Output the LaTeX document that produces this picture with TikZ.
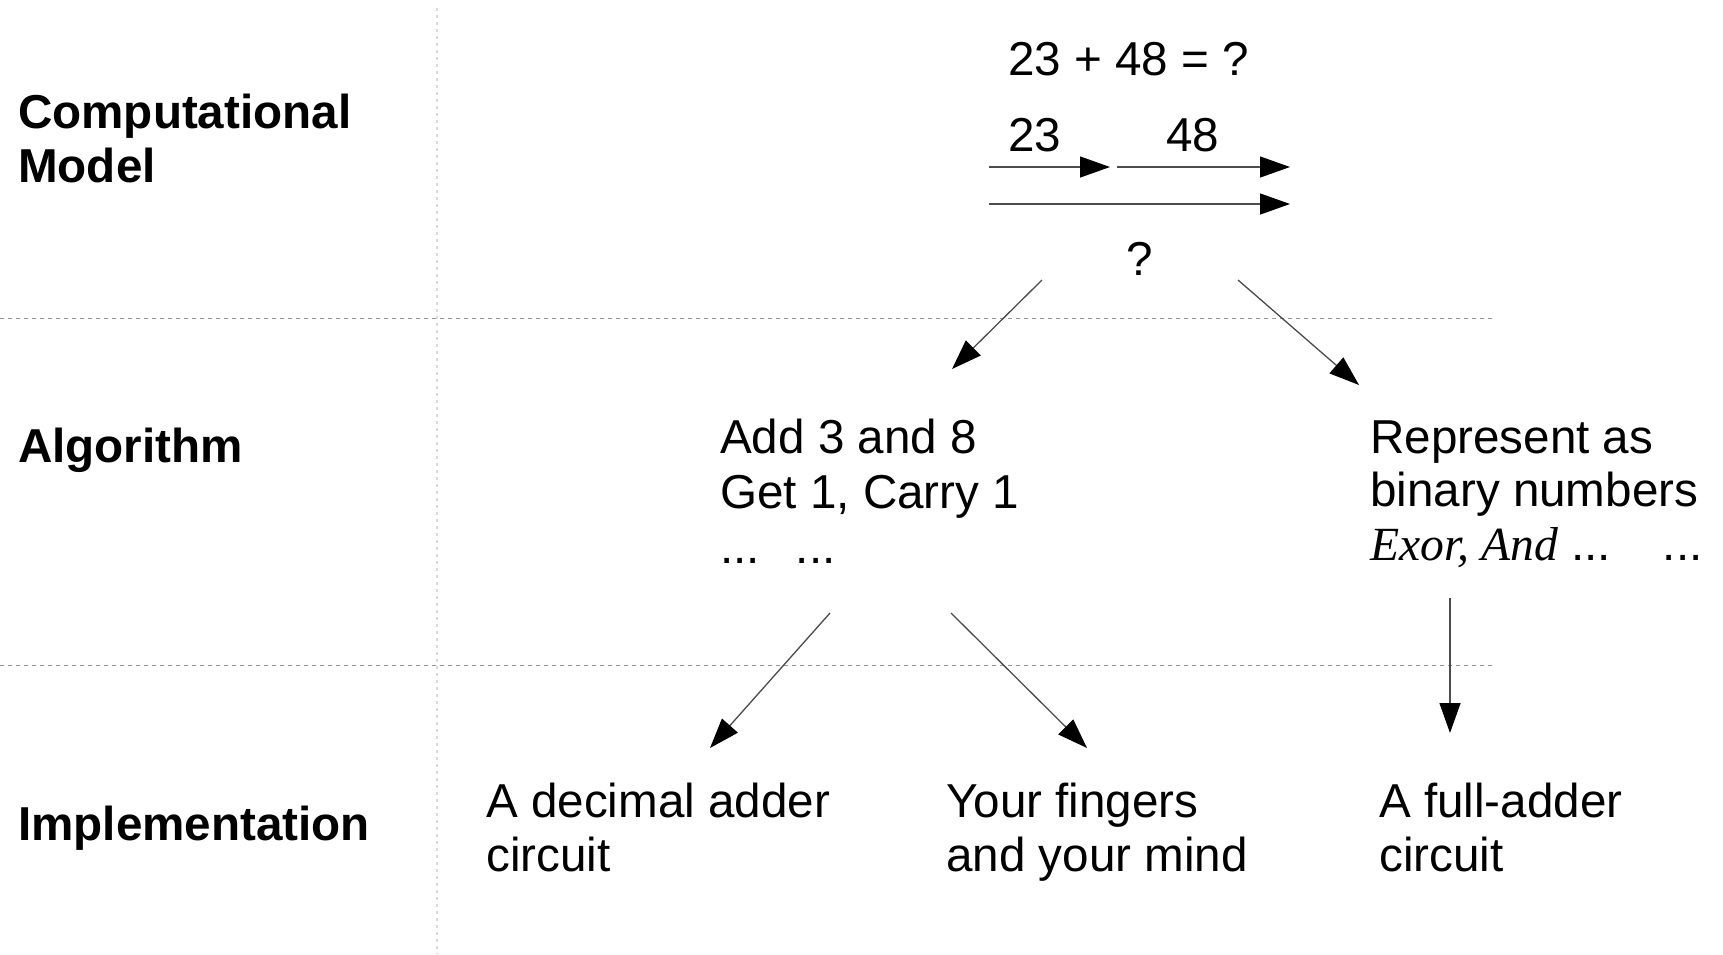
\documentclass[tikz,border=0pt]{standalone}
\usepackage{fontspec}
\setmainfont{Liberation Sans}
\newfontfamily\serifface{Liberation Serif}
\usetikzlibrary{arrows.meta}
\tikzset{
  txt/.style={inner sep=0pt, anchor=base west, align=left, font=\fontsize{47.6}{54}\selectfont},
  lvl/.style={txt, font=\fontsize{47.6}{54}\selectfont\bfseries},
  conn/.style={draw=black!70, line width=1.3pt, -{Triangle[length=30pt,width=21pt,color=black]}},
  divider/.style={draw=black!40, line width=1pt, dash pattern=on 4pt off 4pt},
  colsep/.style={draw=black!15, line width=2pt, dash pattern=on 3pt off 4pt}
}
\begin{document}
\begin{tikzpicture}[x=1pt,y=-1pt]
\useasboundingbox[fill=white] (0,0) rectangle (1723,954);
% dividers
\draw[colsep] (437,8) -- (437,954);
\draw[divider] (0,318) -- (1493,318);
\draw[divider] (0,665) -- (1493,665);
% level labels (multi-line nodes: base anchor = last line)
\node[lvl] (cm) at (18,182) {Computational\\Model};
\node[lvl] (al) at (18,462) {Algorithm};
\node[lvl] (im) at (18,840) {Implementation};
% computational model
\node[txt] (eq) at (1008,75) {23 + 48 = ?};
\node[txt] (n23) at (1008,151) {23};
\node[txt] (n48) at (1166,151) {48};
\node[txt, anchor=base] (q) at (1140,275) {?};
\coordinate (a1s) at (989,167); \coordinate (a1e) at (1110,167);
\coordinate (a2s) at (1117,167); \coordinate (a2e) at (1290,167);
\coordinate (a3s) at (989,204); \coordinate (a3e) at (1290,204);
\draw[conn] (a1s) -- (a1e);
\draw[conn] (a2s) -- (a2e);
\draw[conn] (a3s) -- (a3e);
% algorithms
\node[txt, font=\fontsize{47.6}{55}\selectfont] (dec) at (720,563) {Add 3 and 8\\Get 1, Carry 1\\...\hspace{36pt}...};
\node[txt, font=\fontsize{47.6}{53.5}\selectfont] (bin) at (1370,560) {Represent as\\binary numbers\\{\serifface\itshape Exor, And} ...\hspace{52pt}...};
% implementations
\node[txt] (dac) at (486,871) {A decimal adder\\circuit};
\node[txt] (fin) at (946,871) {Your fingers\\and your mind};
\node[txt] (fac) at (1379,871) {A full-adder\\circuit};
% connectors
\coordinate (d1s) at (1042,280); \coordinate (d1e) at (952,369);
\coordinate (d2s) at (1238,280); \coordinate (d2e) at (1359,385);
\coordinate (d3s) at (830,613);  \coordinate (d3e) at (710,748);
\coordinate (d4s) at (951,613);  \coordinate (d4e) at (1087,748);
\coordinate (d5s) at (1450,598); \coordinate (d5e) at (1450,733);
\draw[conn] (d1s) -- (d1e);
\draw[conn] (d2s) -- (d2e);
\draw[conn] (d3s) -- (d3e);
\draw[conn] (d4s) -- (d4e);
\draw[conn] (d5s) -- (d5e);
\end{tikzpicture}
\end{document}
